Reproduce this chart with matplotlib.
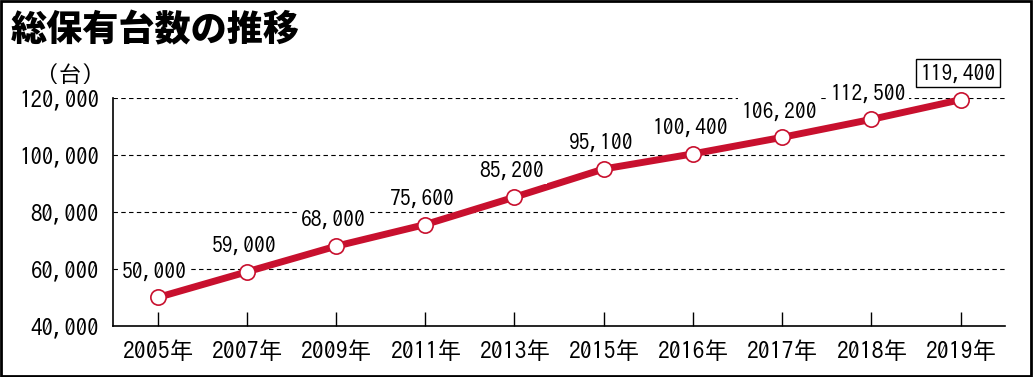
import matplotlib.pyplot as plt
from matplotlib.patches import Rectangle

years = ['2005年', '2007年', '2009年', '2011年', '2013年', '2015年',
         '2016年', '2017年', '2018年', '2019年']
counts = [50000, 59000, 68000, 75600, 85200, 95100, 100400, 106200, 112500, 119400]
yticks = [40000, 60000, 80000, 100000, 120000]

plt.rcParams['font.family'] = ['IPAGothic', 'Noto Sans CJK JP', 'DejaVu Sans']

fig = plt.figure(figsize=(10.33, 3.77), dpi=100)
ax = fig.add_axes([0.1094, 0.1353, 0.8636, 0.6047])

x = list(range(len(years)))
red = '#c8102e'
ax.plot(x, counts, color=red, lw=5, zorder=3, clip_on=False,
        marker='o', ms=11, mfc='white', mec=red, mew=1.2)

ax.set_xlim(-0.5, 9.5)
ax.set_ylim(40000, 120000)
ax.set_xticks(x)
ax.set_xticklabels(years, fontsize=17)
ax.set_yticks(yticks)
ax.set_yticklabels([f'{v:,}' for v in yticks], fontsize=16.5)
ax.tick_params(axis='x', direction='in', length=10, width=1, pad=10)
ax.tick_params(axis='y', length=0, pad=10)
for v in yticks[1:]:
    ax.axhline(v, color='black', lw=0.8, ls=(0, (4, 3)), zorder=1)
ax.spines['top'].set_visible(False)
ax.spines['right'].set_visible(False)
ax.spines['left'].set_linewidth(1.2)
ax.spines['bottom'].set_linewidth(1.2)

for i, v in enumerate(counts):
    if i == len(counts) - 1:
        box = dict(boxstyle='square,pad=0.2', fc='white', ec='black', lw=1)
    else:
        box = dict(boxstyle='square,pad=0.15', fc='white', ec='none')
    ax.annotate(f'{v:,}', (i, v), xytext=(-2, 19), textcoords='offset points',
                ha='center', va='center', fontsize=15.5, bbox=box, zorder=4)

fig.text(0.01, 0.92, '総保有台数の推移', fontsize=26, fontweight='heavy',
         family=['Noto Sans CJK JP'], va='center', ha='left')
fig.text(0.068, 0.805, '（台）', fontsize=16.5, va='center', ha='center')

fig.add_artist(Rectangle((0.001, 0.002), 0.997, 0.995, transform=fig.transFigure,
                         fill=False, ec='black', lw=2))

fig.savefig('out.png', dpi=100)
